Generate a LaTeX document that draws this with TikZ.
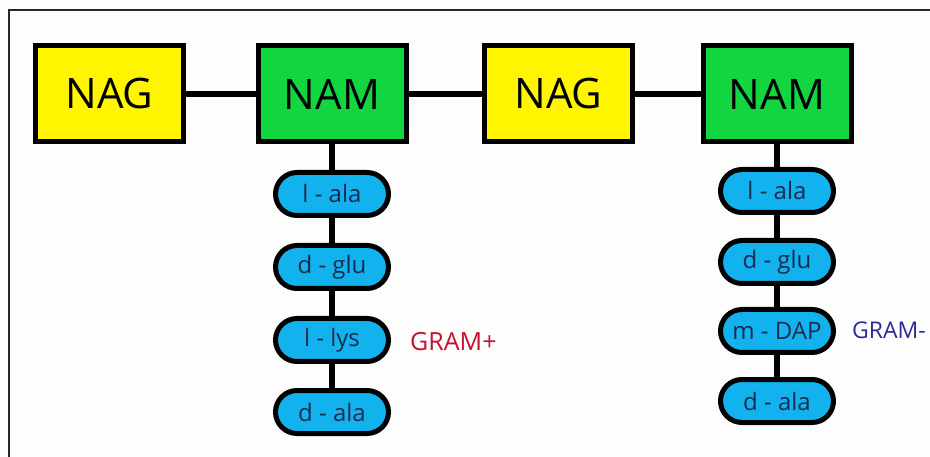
\documentclass[tikz,border=0pt]{standalone}
\usepackage{fontspec}
\setmainfont{Open Sans}
\usetikzlibrary{shapes.misc}
\definecolor{nagyellow}{HTML}{FFF500}
\definecolor{namgreen}{HTML}{12D63F}
\definecolor{pillblue}{HTML}{12B2EE}
\definecolor{pilltext}{HTML}{1A2B50}
\definecolor{gramred}{HTML}{C8102E}
\definecolor{gramblue}{HTML}{2A2A9E}
\definecolor{bgwhite}{HTML}{FDFDFD}
\tikzset{
  sugar/.style={draw=black, line width=5pt, minimum width=148pt, minimum height=96pt, inner sep=0pt, font=\fontsize{42}{48}\selectfont, text=black},
  nag/.style={sugar, fill=nagyellow},
  nam/.style={sugar, fill=namgreen},
  pill/.style={rounded rectangle, draw=black, line width=5pt, fill=pillblue, minimum width=113pt, minimum height=43pt, inner sep=0pt, font=\fontsize{24}{28}\selectfont, text=pilltext},
  bond/.style={line width=5.5pt, black},
  gram/.style={anchor=west, inner sep=0pt, font=\fontsize{25}{28}\selectfont}
}
\begin{document}
\begin{tikzpicture}[x=1pt, y=-1pt]
\useasboundingbox (0,0) rectangle (930,457);
\fill[bgwhite] (0,0) rectangle (930,457);
\draw[line width=1.6pt, black!85] (9,457) -- (9,10) -- (930,10);

\node[nag] (nag1) at (109.5,94) {NAG};
\node[nam] (nam1) at (332,94) {NAM};
\node[nag] (nag2) at (558.5,94) {NAG};
\node[nam] (nam2) at (777,94) {NAM};

\node[pill] (a1) at (332,194) {l - ala};
\node[pill] (a2) at (332,267) {d - glu};
\node[pill] (a3) at (332,340) {l - lys};
\node[pill] (a4) at (332,412) {d - ala};

\node[pill] (b1) at (777,191) {l - ala};
\node[pill] (b2) at (777,262) {d - glu};
\node[pill] (b3) at (777,331) {m - DAP};
\node[pill] (b4) at (777,401) {d - ala};

\node[gram, text=gramred] (gp) at (410,342) {GRAM+};
\node[gram, text=gramblue, font=\fontsize{23}{26}\selectfont] (gm) at (852,330) {GRAM-};

\draw[bond] (nag1.east) -- (nam1.west);
\draw[bond] (nam1.east) -- (nag2.west);
\draw[bond] (nag2.east) -- (nam2.west);
\draw[bond] (nam1.south) -- (a1.north);
\draw[bond] (a1.south) -- (a2.north);
\draw[bond] (a2.south) -- (a3.north);
\draw[bond] (a3.south) -- (a4.north);
\draw[bond] (nam2.south) -- (b1.north);
\draw[bond] (b1.south) -- (b2.north);
\draw[bond] (b2.south) -- (b3.north);
\draw[bond] (b3.south) -- (b4.north);
\end{tikzpicture}
\end{document}
